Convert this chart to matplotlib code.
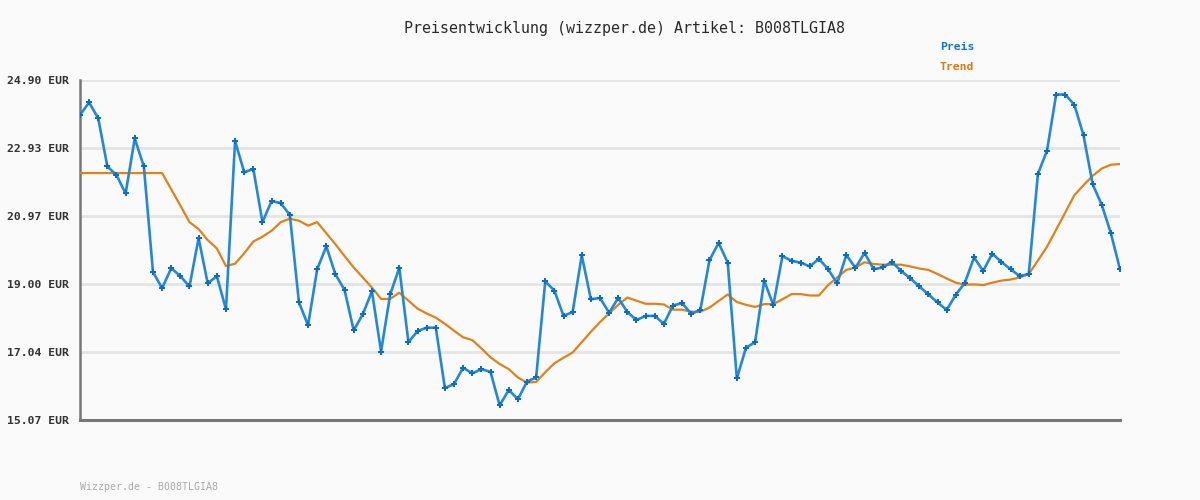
import matplotlib
matplotlib.use("Agg")
import matplotlib.pyplot as plt

title = "Preisentwicklung (wizzper.de) Artikel: B008TLGIA8"
footer = "Wizzper.de - B008TLGIA8"
y_ticks = [15.07, 17.04, 19.00, 20.97, 22.93, 24.90]
y_tick_labels = ["15.07 EUR", "17.04 EUR", "19.00 EUR", "20.97 EUR", "22.93 EUR", "24.90 EUR"]

preis = [23.89, 24.25, 23.79, 22.40, 22.15, 21.62, 23.21, 22.40, 19.35, 18.88,
         19.46, 19.23, 18.93, 20.33, 19.02, 19.23, 18.27, 23.14, 22.23, 22.33,
         20.79, 21.40, 21.34, 21.00, 18.47, 17.81, 19.43, 20.09, 19.28, 18.83,
         17.66, 18.13, 18.79, 17.05, 18.70, 19.47, 17.32, 17.64, 17.74, 17.74,
         15.99, 16.11, 16.58, 16.42, 16.54, 16.46, 15.49, 15.94, 15.67, 16.18,
         16.30, 19.08, 18.81, 18.08, 18.19, 19.83, 18.56, 18.60, 18.17, 18.60,
         18.19, 17.96, 18.08, 18.08, 17.85, 18.38, 18.45, 18.14, 18.25, 19.69,
         20.19, 19.62, 16.27, 17.16, 17.32, 19.10, 18.39, 19.81, 19.67, 19.62,
         19.51, 19.73, 19.43, 19.02, 19.84, 19.47, 19.90, 19.43, 19.48, 19.64,
         19.38, 19.17, 18.93, 18.70, 18.47, 18.25, 18.69, 19.04, 19.77, 19.38,
         19.88, 19.64, 19.43, 19.23, 19.29, 22.18, 22.86, 24.48, 24.48, 24.18,
         23.30, 21.89, 21.29, 20.47, 19.43]

trend = [22.21, 22.21, 22.21, 22.21, 22.21, 22.21, 22.21, 22.21, 22.21, 22.21,
         21.74, 21.27, 20.79, 20.59, 20.27, 20.03, 19.52, 19.59, 19.89, 20.23,
         20.37, 20.54, 20.79, 20.89, 20.83, 20.69, 20.79, 20.47, 20.15, 19.81,
         19.48, 19.19, 18.90, 18.57, 18.57, 18.75, 18.52, 18.29, 18.15, 18.03,
         17.85, 17.65, 17.46, 17.38, 17.14, 16.88, 16.69, 16.54, 16.30, 16.15,
         16.17, 16.45, 16.71, 16.87, 17.02, 17.32, 17.62, 17.90, 18.15, 18.40,
         18.61, 18.52, 18.43, 18.43, 18.41, 18.26, 18.26, 18.20, 18.20, 18.32,
         18.51, 18.70, 18.48, 18.40, 18.34, 18.42, 18.42, 18.56, 18.71, 18.71,
         18.67, 18.67, 18.97, 19.19, 19.41, 19.48, 19.63, 19.58, 19.56, 19.56,
         19.56, 19.51, 19.45, 19.41, 19.29, 19.16, 19.04, 18.98, 18.99, 18.97,
         19.04, 19.10, 19.13, 19.19, 19.29, 19.68, 20.08, 20.57, 21.07, 21.57,
         21.86, 22.13, 22.34, 22.45, 22.47]

BG = "#fafafa"
BLUE = "#2588d4"
BLUE_DARK = "#0a6fc2"
ORANGE = "#e0821a"
MONO = "DejaVu Sans Mono"

fig = plt.figure(figsize=(12, 5), dpi=100, facecolor=BG)
ax = fig.add_axes([80/1200, 80/500, 1040/1200, 340/500])
ax.set_facecolor(BG)

x = list(range(len(preis)))
ax.plot(x, trend, color=ORANGE, lw=1.6, zorder=3, solid_joinstyle="round")
ax.plot(x, preis, color=BLUE, lw=1.9, marker="P", ms=3.8, mew=0,
        mfc=BLUE_DARK, zorder=4, solid_joinstyle="round")

ax.set_xlim(0, len(preis) - 1)
ax.set_ylim(y_ticks[0], y_ticks[-1])
ax.set_yticks(y_ticks)
ax.set_yticklabels(y_tick_labels, fontfamily=MONO, fontweight="bold",
                   fontsize=8.2, color="#333333")
ax.set_xticks([])
ax.tick_params(axis="y", length=0, pad=8)
ax.grid(axis="y", color="#e4e4e4", lw=2, zorder=0)
ax.set_axisbelow(True)
for s in ["top", "right"]:
    ax.spines[s].set_visible(False)
ax.spines["left"].set_color("#777777")
ax.spines["left"].set_linewidth(1.8)
ax.spines["bottom"].set_color("#777777")
ax.spines["bottom"].set_linewidth(2.2)

fig.text(624/1200, 1 - 28/500, title, ha="center", va="center",
         fontfamily=MONO, fontsize=10.8, color="#2a2a2a")
fig.text(940/1200, 1 - 47/500, "Preis", ha="left", va="center",
         fontfamily=MONO, fontsize=8.2, fontweight="bold", color="#1177cc")
fig.text(940/1200, 1 - 67/500, "Trend", ha="left", va="center",
         fontfamily=MONO, fontsize=8.2, fontweight="bold", color="#dd7a10")
fig.text(80/1200, 1 - 487/500, footer, ha="left", va="center",
         fontfamily=MONO, fontsize=7.1, color="#aaaaaa")

fig.savefig("out.png", dpi=100, facecolor=BG)
